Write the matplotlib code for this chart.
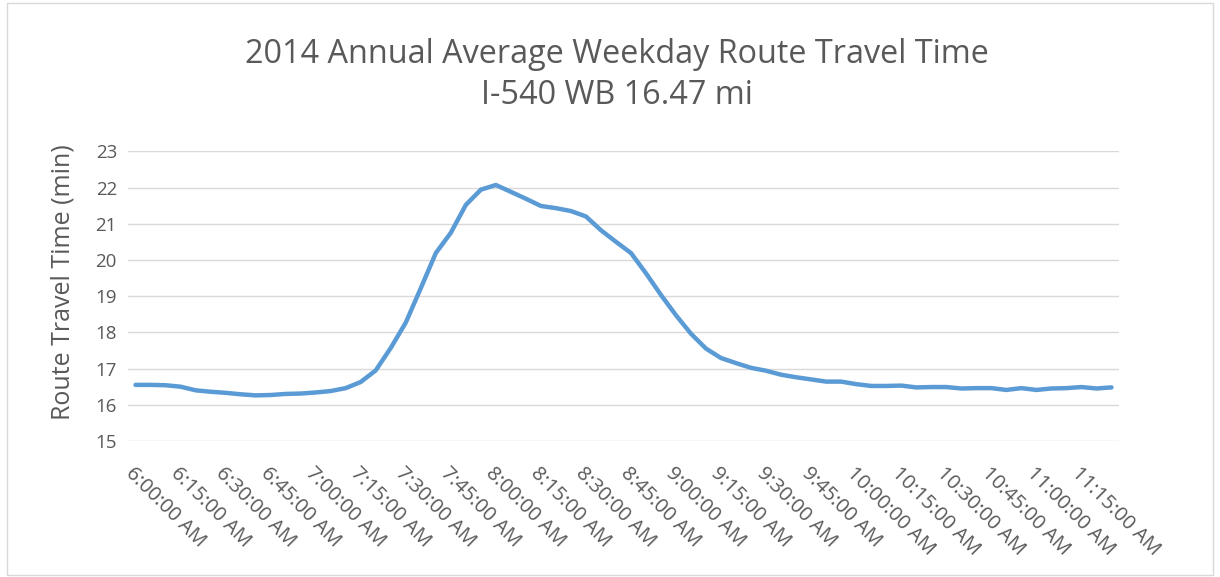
import matplotlib
matplotlib.use("Agg")
import matplotlib.pyplot as plt
from matplotlib.patches import Rectangle

# time-of-day categories every 5 minutes, 6:00 to 11:25 AM
times = []
for h in range(6, 12):
    for m in range(0, 60, 5):
        if h == 11 and m > 25:
            break
        times.append(f"{h}:{m:02d}:00 AM")

travel_time = [
    16.55, 16.55, 16.54, 16.50, 16.40, 16.36, 16.33, 16.29, 16.26, 16.27,
    16.30, 16.31, 16.34, 16.38, 16.46, 16.63, 16.95, 17.57, 18.27, 19.22,
    20.19, 20.75, 21.52, 21.94, 22.07, 21.88, 21.69, 21.49, 21.43, 21.35,
    21.20, 20.82, 20.50, 20.19, 19.63, 19.03, 18.47, 17.96, 17.55, 17.29,
    17.15, 17.02, 16.94, 16.83, 16.76, 16.70, 16.64, 16.64, 16.57, 16.52,
    16.52, 16.53, 16.48, 16.49, 16.49, 16.45, 16.46, 16.46, 16.41, 16.46,
    16.41, 16.45, 16.46, 16.49, 16.45, 16.48,
]

title = "2014 Annual Average Weekday Route Travel Time\nI-540 WB 16.47 mi"
ylabel = "Route Travel Time (min)"
yticks = [15, 16, 17, 18, 19, 20, 21, 22, 23]

plt.rcParams['font.family'] = ['Open Sans', 'DejaVu Sans']
text_color = "#595959"

fig = plt.figure(figsize=(12.2, 5.77), dpi=100)
fig.patches.append(Rectangle((0.006, 0.004), 0.988, 0.99, transform=fig.transFigure,
                             fill=False, edgecolor="#D9D9D9", linewidth=1.0))
ax = fig.add_axes([128/1220, 1-441/577, (1119-128)/1220, (441-151.3)/577])

x = list(range(len(times)))
ax.plot(x, travel_time, color="#5B9BD5", linewidth=3.2, solid_capstyle='round',
        solid_joinstyle='round')

ax.set_xlim(-0.5, len(times) - 0.5)
ax.set_ylim(15, 23)
ax.set_yticks(yticks)
ax.set_yticklabels([str(v) for v in yticks])
ax.set_xticks(x[::3])
ax.set_xticklabels(times[::3], rotation=-45, ha='left', va='top',
                   rotation_mode='anchor')
ax.tick_params(axis='both', length=0, colors=text_color, labelsize=13.5)
ax.tick_params(axis='x', pad=16, labelsize=14.5)
ax.tick_params(axis='y', pad=8)
ax.grid(axis='y', color="#D9D9D9", linewidth=1.0)
ax.set_axisbelow(True)
for s in ax.spines.values():
    s.set_visible(False)

ax.set_ylabel(ylabel, color=text_color, fontsize=18)
ax.yaxis.set_label_coords(-0.053, 0.55)
fig.text(617/1220, 1-75/577, title, ha='center', va='center', color=text_color,
         fontsize=23.3, linespacing=1.35)

fig.savefig("out.png", dpi=100)
